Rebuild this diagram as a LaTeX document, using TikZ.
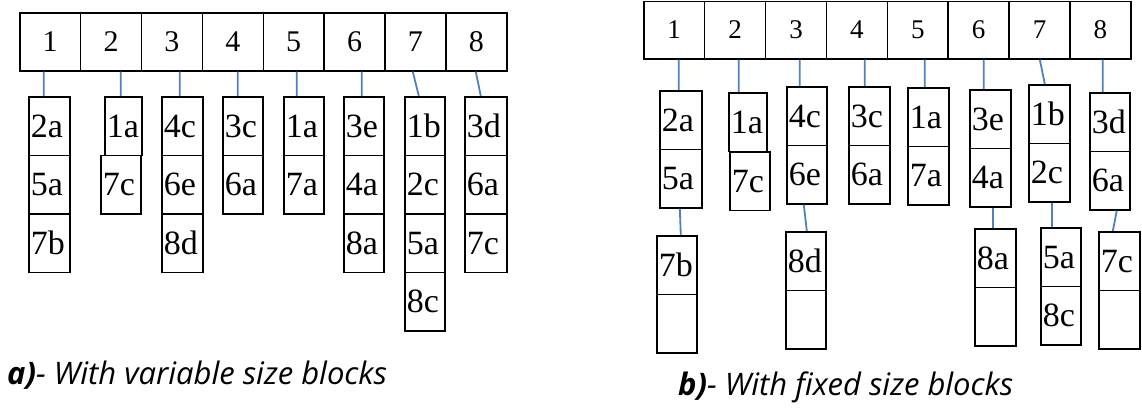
\documentclass[tikz,border=0pt]{standalone}
\usepackage{fontspec}
\setmainfont{Liberation Serif}
\newfontfamily\lblfont{Liberation Serif}
\newfontfamily\capfont{Open Sans}
\definecolor{linkblue}{RGB}{79,129,189}
\tikzset{
  cell/.style={draw, line width=1.6pt, anchor=north west, inner sep=0pt,
    minimum width=60.875pt, minimum height=58pt},
  blk/.style={draw, line width=1.6pt, anchor=north west, inner xsep=2pt,
    inner ysep=0pt, text width=#1, align=left, minimum height=58.5pt,
    font=\lblfont\fontsize{34}{34}\selectfont},
  blk/.default=37pt,
  link/.style={draw=linkblue, line width=1.8pt},
  caption/.style={anchor=base west, inner sep=0pt,
    font=\capfont\itshape\fontsize{31}{31}\selectfont}
}
\begin{document}
\begin{tikzpicture}[x=1pt, y=-1pt]
  \useasboundingbox (0,0) rectangle (1142,410);
  % a) variable size blocks
  \foreach \i in {1,...,8}
    \node[cell, font=\lblfont\fontsize{30}{30}\selectfont] (ha\i) at ({19+60.875*(\i-1)},12) {\i};
  \node[blk] (a1r1) at (28,96) {2a};
  \node[blk] (a1r2) at (28,154.5) {5a};
  \node[blk] (a1r3) at (28,213) {7b};
  \node[blk=33pt] (a2r1) at (104,96) {1a};
  \node[blk=36pt] (a2r2) at (100,154.5) {7c};
  \node[blk] (a3r1) at (161,96) {4c};
  \node[blk] (a3r2) at (161,154.5) {6e};
  \node[blk] (a3r3) at (161,213) {8d};
  \node[blk=36pt] (a4r1) at (222,96) {3c};
  \node[blk=36pt] (a4r2) at (222,154.5) {6a};
  \node[blk=36pt] (a5r1) at (283,96) {1a};
  \node[blk=36pt] (a5r2) at (283,154.5) {7a};
  \node[blk=36pt] (a6r1) at (343,96) {3e};
  \node[blk=36pt] (a6r2) at (343,154.5) {4a};
  \node[blk=36pt] (a6r3) at (343,213) {8a};
  \node[blk=36pt] (a7r1) at (404,96) {1b};
  \node[blk=36pt] (a7r2) at (404,154.5) {2c};
  \node[blk=36pt] (a7r3) at (404,213) {5a};
  \node[blk=36pt] (a7r4) at (404,271.5) {8c};
  \node[blk=38pt] (a8r1) at (464,96) {3d};
  \node[blk=38pt] (a8r2) at (464,154.5) {6a};
  \node[blk=38pt] (a8r3) at (464,213) {7c};
  \draw[link] ([xshift=-6.4pt]ha1.south) -- ([xshift=-5.5pt]a1r1.north);
  \draw[link] ([xshift=9.7pt]ha2.south) -- ([xshift=-2.5pt]a2r1.north);
  \draw[link] ([xshift=7.8pt]ha3.south) -- ([xshift=-2.5pt]a3r1.north);
  \draw[link] ([xshift=4.9pt]ha4.south) -- ([xshift=-5pt]a4r1.north);
  \draw[link] ([xshift=3pt]ha5.south) -- ([xshift=-7pt]a5r1.north);
  \draw[link] ([xshift=7.2pt]ha6.south) -- ([xshift=-2pt]a6r1.north);
  \draw[link] ([xshift=-2.7pt]ha7.south) -- ([xshift=-6pt]a7r1.north);
  \draw[link] ([xshift=-0.6pt]ha8.south) -- ([xshift=-5pt]a8r1.north);
  \node[caption] (capa) at (7,384) {\bfseries a)\mdseries- With variable size blocks};
  % b) fixed size blocks
  \foreach \i in {1,...,8}
    \node[cell, minimum height=57.5pt, font=\lblfont\fontsize{27}{27}\selectfont] (hb\i) at ({643+60.875*(\i-1)},0.5) {\i};
  \node[blk=38pt] (b1r1) at (659,90) {2a};
  \node[blk=38pt] (b1r2) at (659,148.5) {5a};
  \node[blk=36pt] (b1r3) at (656,235) {7b};
  \node[blk=36pt] (b1r4) at (656,293.5) {};
  \node[blk=34pt] (b2r1) at (728,92) {1a};
  \node[blk=36pt] (b2r2) at (729,151) {7c};
  \node[blk=36pt] (b3r1) at (786,86) {4c};
  \node[blk=36pt] (b3r2) at (786,144.5) {6e};
  \node[blk=36pt] (b3r3) at (785,231) {8d};
  \node[blk=36pt] (b3r4) at (785,289.5) {};
  \node[blk] (b4r1) at (848,86) {3c};
  \node[blk] (b4r2) at (848,144.5) {6a};
  \node[blk] (b5r1) at (907,87) {1a};
  \node[blk] (b5r2) at (907,145.5) {7a};
  \node[blk] (b6r1) at (969,89) {3e};
  \node[blk] (b6r2) at (969,147.5) {4a};
  \node[blk] (b6r3) at (974,228) {8a};
  \node[blk] (b6r4) at (974,286.5) {};
  \node[blk] (b7r1) at (1028,84) {1b};
  \node[blk] (b7r2) at (1028,142.5) {2c};
  \node[blk=36pt] (b7r3) at (1040,227) {5a};
  \node[blk=36pt] (b7r4) at (1040,285.5) {8c};
  \node[blk=36pt] (b8r1) at (1089,92) {3d};
  \node[blk=36pt] (b8r2) at (1089,150.5) {6a};
  \node[blk] (b8r3) at (1098,231) {7c};
  \node[blk] (b8r4) at (1098,289.5) {};
  \draw[link] ([xshift=4.6pt]hb1.south) -- ([xshift=-2pt]b1r1.north);
  \draw[link] ([xshift=-1pt]b1r2.south) -- ([xshift=4pt]b1r3.north);
  \draw[link] ([xshift=3.7pt]hb2.south) -- ([xshift=-9pt]b2r1.north);
  \draw[link] ([xshift=3.8pt]hb3.south) -- ([xshift=-7pt]b3r1.north);
  \draw[link] ([xshift=-3pt]b3r2.south) -- ([xshift=1pt]b3r3.north);
  \draw[link] ([xshift=7.9pt]hb4.south) -- ([xshift=-4.5pt]b4r1.north);
  \draw[link] ([xshift=7pt]hb5.south) -- ([xshift=-3.5pt]b5r1.north);
  \draw[link] ([xshift=5.2pt]hb6.south) -- ([xshift=-6.5pt]b6r1.north);
  \draw[link] ([xshift=2.5pt]b6r2.south) -- ([xshift=-2.5pt]b6r3.north);
  \draw[link] ([xshift=0.3pt]hb7.south) -- ([xshift=-4.5pt]b7r1.north);
  \draw[link] ([xshift=2.5pt]b7r2.south) -- ([xshift=-9pt]b7r3.north);
  \draw[link] ([xshift=2.4pt]hb8.south) -- ([xshift=-7pt]b8r1.north);
  \draw[link] ([xshift=7pt]b8r2.south) -- ([xshift=-6.5pt]b8r3.north);
  \node[caption] (capb) at (678,395) {\bfseries b)\mdseries- With fixed size blocks};
\end{tikzpicture}
\end{document}
